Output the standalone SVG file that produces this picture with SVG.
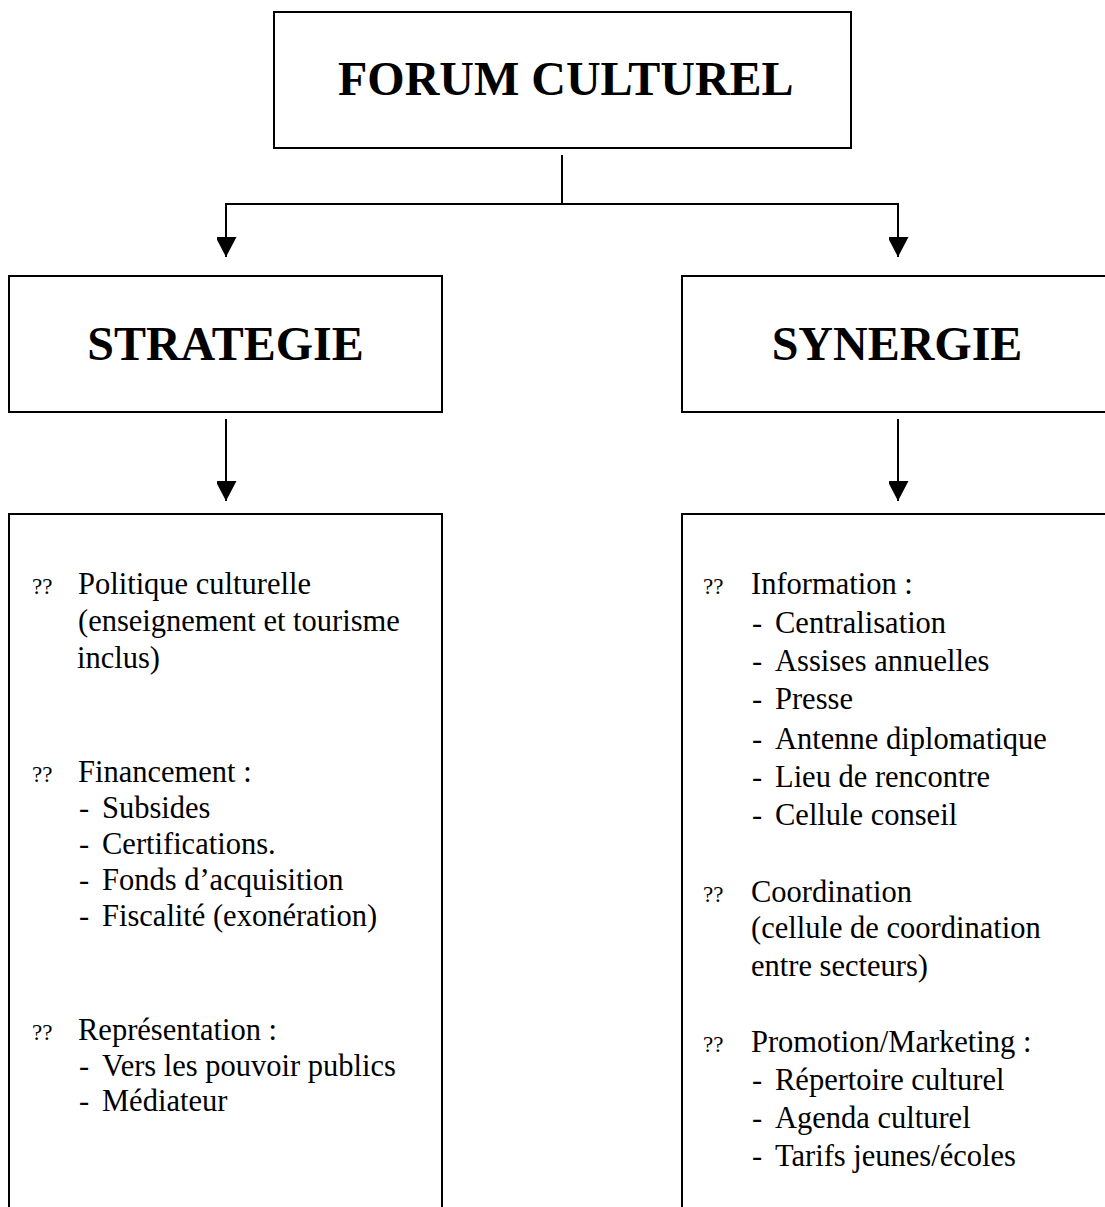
<svg xmlns="http://www.w3.org/2000/svg" width="1105" height="1207" viewBox="0 0 1105 1207">
<style>
.box{fill:none;stroke:#000;stroke-width:2}
.title{font-family:"Liberation Serif",serif;font-weight:bold;font-size:48px;fill:#000}
.t{font-family:"Liberation Serif",serif;font-size:30.5px;fill:#000}
.q{font-family:"Liberation Serif",serif;font-size:23px;fill:#000}
.ln{fill:none;stroke:#000;stroke-width:2}
</style>
<defs>
<marker id="ah" markerWidth="22" markerHeight="20" refX="20" refY="10.5" orient="auto" markerUnits="userSpaceOnUse">
<path d="M0,0 L20,10.5 L0,21 Z" fill="#000"/>
</marker>
</defs>
<rect width="1105" height="1207" fill="#fff"/>
<g id="forum">
<rect class="box" x="274" y="12" width="577" height="136"/>
<text class="title" x="338" y="95">FORUM CULTUREL</text>
</g>
<g id="strategie">
<rect class="box" x="9" y="276" width="433" height="136"/>
<text class="title" x="225.5" y="360" text-anchor="middle">STRATEGIE</text>
</g>
<g id="synergie">
<path class="box" d="M1110,276 H682 V412 H1110"/>
<text class="title" x="897" y="360" text-anchor="middle">SYNERGIE</text>
</g>
<g id="strategie-details">
<path class="box" d="M9,1215 V514 H442 V1215"/>
<text class="q" x="32" y="594">??</text>
<text class="t" x="78" y="594">Politique culturelle</text>
<text class="t" x="78" y="631">(enseignement et tourisme</text>
<text class="t" x="77" y="668">inclus)</text>
<text class="q" x="32" y="782">??</text>
<text class="t" x="78" y="782">Financement :</text>
<text class="t" x="79" y="818">-</text><text class="t" x="102" y="818">Subsides</text>
<text class="t" x="79" y="854">-</text><text class="t" x="102" y="854">Certifications.</text>
<text class="t" x="79" y="890">-</text><text class="t" x="102" y="890">Fonds d’acquisition</text>
<text class="t" x="79" y="926">-</text><text class="t" x="102" y="926">Fiscalité (exonération)</text>
<text class="q" x="32" y="1040">??</text>
<text class="t" x="78" y="1040">Représentation :</text>
<text class="t" x="79" y="1076">-</text><text class="t" x="102" y="1076">Vers les pouvoir publics</text>
<text class="t" x="79" y="1111">-</text><text class="t" x="102" y="1111">Médiateur</text>
</g>
<g id="synergie-details">
<path class="box" d="M682,1215 V514 H1110"/>
<text class="q" x="703" y="594">??</text>
<text class="t" x="751" y="594">Information :</text>
<text class="t" x="752" y="633">-</text><text class="t" x="775" y="633">Centralisation</text>
<text class="t" x="752" y="671">-</text><text class="t" x="775" y="671">Assises annuelles</text>
<text class="t" x="752" y="709">-</text><text class="t" x="775" y="709">Presse</text>
<text class="t" x="752" y="749">-</text><text class="t" x="775" y="749">Antenne diplomatique</text>
<text class="t" x="752" y="787">-</text><text class="t" x="775" y="787">Lieu de rencontre</text>
<text class="t" x="752" y="825">-</text><text class="t" x="775" y="825">Cellule conseil</text>
<text class="q" x="703" y="902">??</text>
<text class="t" x="751" y="902">Coordination</text>
<text class="t" x="751" y="938">(cellule de coordination</text>
<text class="t" x="751" y="976">entre secteurs)</text>
<text class="q" x="703" y="1052">??</text>
<text class="t" x="751" y="1052">Promotion/Marketing :</text>
<text class="t" x="752" y="1090">-</text><text class="t" x="775" y="1090">Répertoire culturel</text>
<text class="t" x="752" y="1128">-</text><text class="t" x="775" y="1128">Agenda culturel</text>
<text class="t" x="752" y="1166">-</text><text class="t" x="775" y="1166">Tarifs jeunes/écoles</text>
</g>
<g id="connectors">
<path class="ln" d="M562,155 V204"/>
<path class="ln" d="M562,204 H226 V257" marker-end="url(#ah)"/>
<path class="ln" d="M562,204 H898 V257" marker-end="url(#ah)"/>
<path class="ln" d="M226,419 V501" marker-end="url(#ah)"/>
<path class="ln" d="M898,419 V501" marker-end="url(#ah)"/>
</g>
</svg>
